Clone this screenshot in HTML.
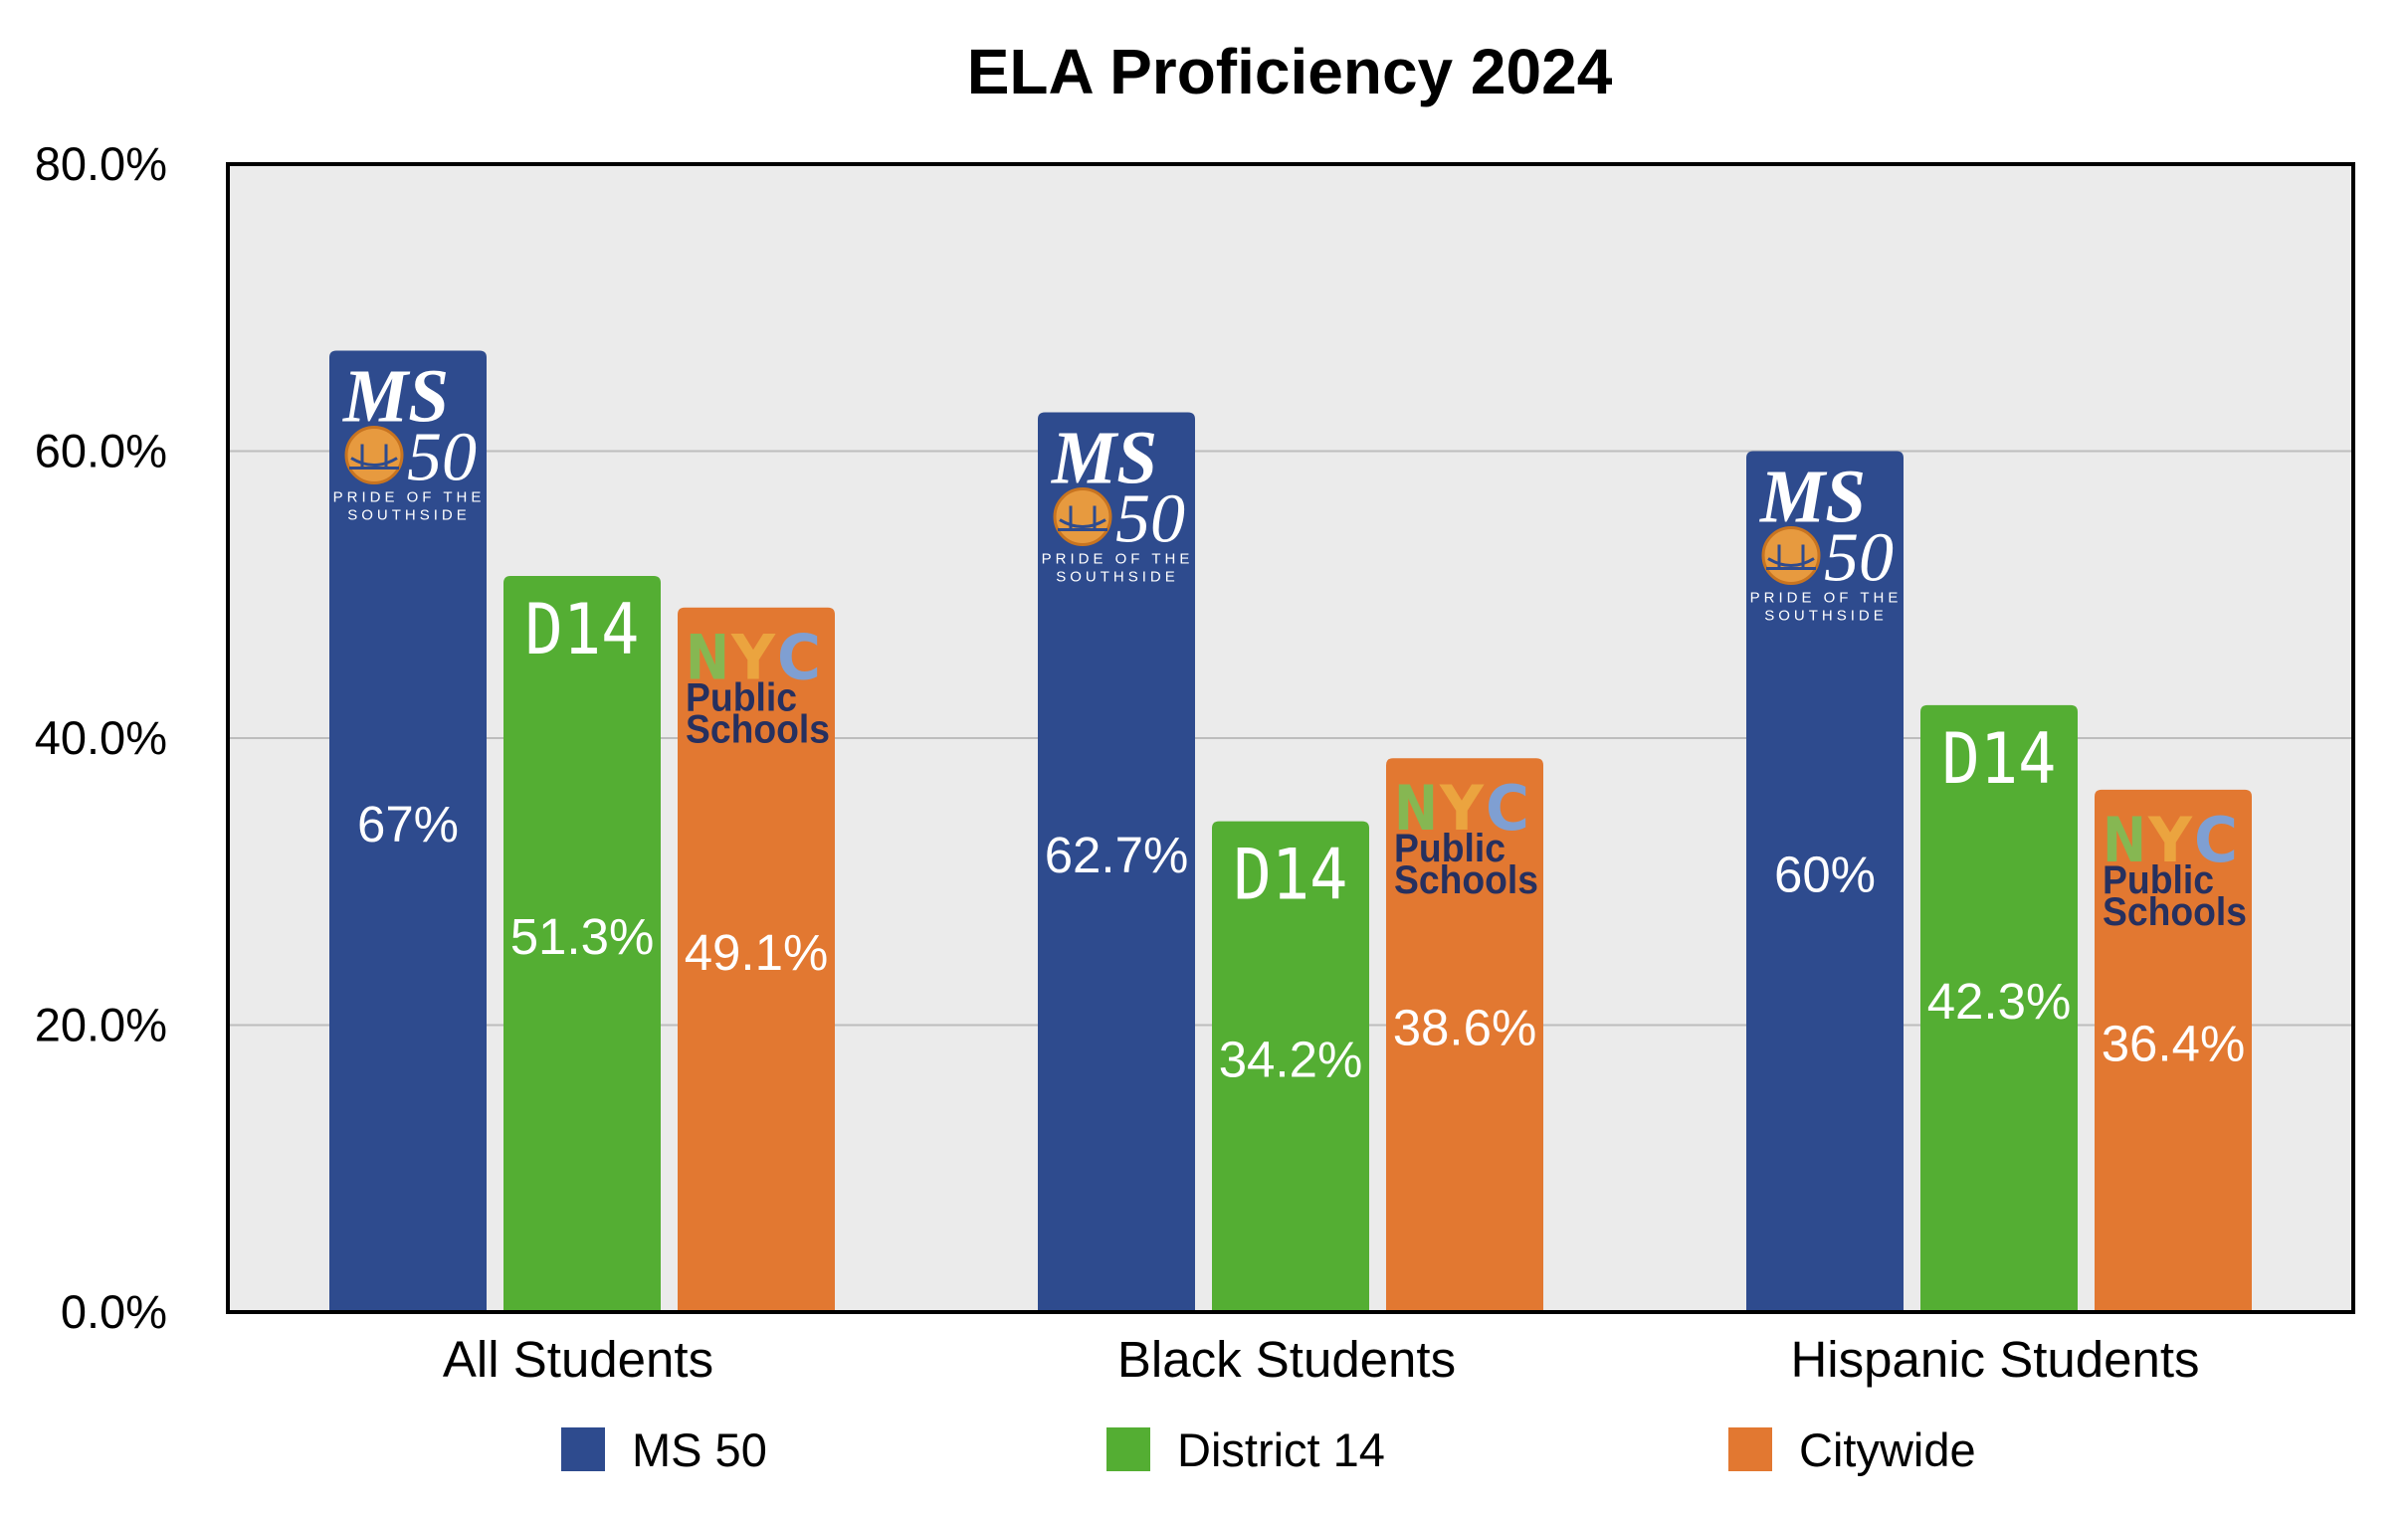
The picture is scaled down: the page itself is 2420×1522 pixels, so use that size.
<!DOCTYPE html>
<html><head><meta charset="utf-8"><style>
html,body{margin:0;padding:0;background:#fff;}
svg{display:block;font-family:"Liberation Sans",Arial,sans-serif;}
</style></head><body>
<svg id="chart" width="2420" height="1522" viewBox="0 0 2420 1522" xmlns="http://www.w3.org/2000/svg">
<text x="1296" y="94" text-anchor="middle" font-size="64" font-weight="bold" fill="#000">ELA Proficiency 2024</text>
<rect x="229" y="165" width="2136" height="1154" fill="#ebebeb"/>
<g id="grid"></g>
<g id="bars"></g>
<rect x="229" y="165" width="2136" height="1154" fill="none" stroke="#000" stroke-width="4"/>
<g id="yticks"></g>
<g id="xlabels"></g>
<g id="legend"></g>
</svg>
<script>
const categories = ["All Students", "Black Students", "Hispanic Students"];
const seriesNames = ["MS 50", "District 14", "Citywide"];
const ms50 = [67, 62.7, 60];
const district14 = [51.3, 34.2, 42.3];
const citywide = [49.1, 38.6, 36.4];
const valueLabels = [["67%","62.7%","60%"],["51.3%","34.2%","42.3%"],["49.1%","38.6%","36.4%"]];
const yTicks = [0, 20, 40, 60, 80];
const yTickLabels = ["0.0%","20.0%","40.0%","60.0%","80.0%"];

const NS = "http://www.w3.org/2000/svg";
const colors = ["#2e4b8e", "#54ae33", "#e27831"];
const PL = 229, PR = 2365, PT = 165, PB = 1319, YMAX = 80;
const y = v => PB - (v / YMAX) * (PB - PT);
const groupW = (PR - PL) / categories.length;
const BW = 158, GAP = 17;
const xc = i => PL + groupW * (i + 0.5);
const bx = (i, s) => xc(i) - (3 * BW + 2 * GAP) / 2 + s * (BW + GAP);
function mk(tag, attrs, parent, txt) {
  const e = document.createElementNS(NS, tag);
  for (const k in attrs) e.setAttribute(k, attrs[k]);
  if (txt !== undefined) e.textContent = txt;
  parent.appendChild(e);
  return e;
}
const grid = document.getElementById("grid");
const yt = document.getElementById("yticks");
yTicks.forEach((t, k) => {
  if (t > 0 && t < YMAX) {
    const l = mk("line", {x1: PL, x2: PR, y1: y(t), y2: y(t), stroke: "#bdbdbd", "stroke-width": 2}, grid);
    
    
  }
  const tx = mk("text", {x: 168, y: y(t) + 16, "text-anchor": "end", "font-size": 47, fill: "#000"}, yt, yTickLabels[k]);
  
  
});
const bars = document.getElementById("bars");
const series = [ms50, district14, citywide];
series.forEach((vals, s) => {
  vals.forEach((v, i) => {
    const x = bx(i, s), top = y(v), h = PB - top;
    const g = mk("g", {}, bars);
    
    
    const r = mk("path", {d: `M${x},${PB} V${top + 7} Q${x},${top} ${x + 7},${top} H${x + BW - 7} Q${x + BW},${top} ${x + BW},${top + 7} V${PB} Z`, fill: colors[s]}, g);
    
    
    const lbl = mk("text", {x: x + BW / 2, y: top + h / 2 + 10, "text-anchor": "middle", "font-size": 51, fill: "#fff"}, g, valueLabels[s][i]);
    
    
    const logo = mk("g", {}, g);
    
    
    if (s === 0) {
      mk("text", {x: x + 14, y: top + 71, "font-family": "Liberation Serif, serif", "font-style": "italic", "font-weight": "bold", "font-size": 76, fill: "#fff", textLength: 106, lengthAdjust: "spacingAndGlyphs"}, logo, "MS");
      mk("circle", {cx: x + 45, cy: top + 105, r: 28, fill: "#e79a3f", stroke: "#c87420", "stroke-width": 3}, logo);
      mk("path", {d: `M${x + 22},${top + 108} Q${x + 45},${top + 122} ${x + 68},${top + 108} M${x + 33},${top + 94} V${top + 118} M${x + 57},${top + 94} V${top + 118} M${x + 20},${top + 118} H${x + 70}`, stroke: "#2e4b8e", "stroke-width": 3, fill: "none"}, logo);
      mk("text", {x: x + 78, y: top + 130, "font-family": "Liberation Serif, serif", "font-style": "italic", "font-size": 70, fill: "#fff"}, logo, "50");
      mk("text", {x: x + 80, y: top + 152, "text-anchor": "middle", "font-size": 15, fill: "#fff", "letter-spacing": 4}, logo, "PRIDE OF THE");
      mk("text", {x: x + 80, y: top + 170, "text-anchor": "middle", "font-size": 15, fill: "#fff", "letter-spacing": 4}, logo, "SOUTHSIDE");
    } else if (s === 1) {
      mk("text", {x: x + BW / 2, y: top + 78, "text-anchor": "middle", "font-family": "DejaVu Sans Mono, monospace", "font-size": 70, fill: "#fff", textLength: 115, lengthAdjust: "spacingAndGlyphs"}, logo, "D14");
    } else {
      const nyc = [["N", "#86b752"], ["Y", "#eba43f"], ["C", "#7f9fd2"]];
      nyc.forEach((p, k) => {
        mk("text", {x: x + 8 + k * 46, y: top + 72, "font-family": "DejaVu Sans, sans-serif", "font-weight": "bold", "font-size": 62, fill: p[1], textLength: 44, lengthAdjust: "spacingAndGlyphs"}, logo, p[0]);
      });
      mk("text", {x: x + 8, y: top + 104, "font-weight": "bold", "font-size": 40, fill: "#26305f", textLength: 112, lengthAdjust: "spacingAndGlyphs"}, logo, "Public");
      mk("text", {x: x + 8, y: top + 136, "font-weight": "bold", "font-size": 40, fill: "#26305f", textLength: 145, lengthAdjust: "spacingAndGlyphs"}, logo, "Schools");
    }
  });
});
const xl = document.getElementById("xlabels");
categories.forEach((c, i) => {
  const t = mk("text", {x: xc(i) - 4, y: 1384, "text-anchor": "middle", "font-size": 51, fill: "#000"}, xl, c);
  
  
});
const lg = document.getElementById("legend");
const legX = [564, 1112, 1737];
seriesNames.forEach((n, s) => {
  const g = mk("g", {}, lg);
  
  
  mk("rect", {x: legX[s], y: 1435, width: 44, height: 44, fill: colors[s]}, g);
  mk("text", {x: legX[s] + 71, y: 1474, "font-size": 47, fill: "#000"}, g, n);
});
</script>
</body></html>
